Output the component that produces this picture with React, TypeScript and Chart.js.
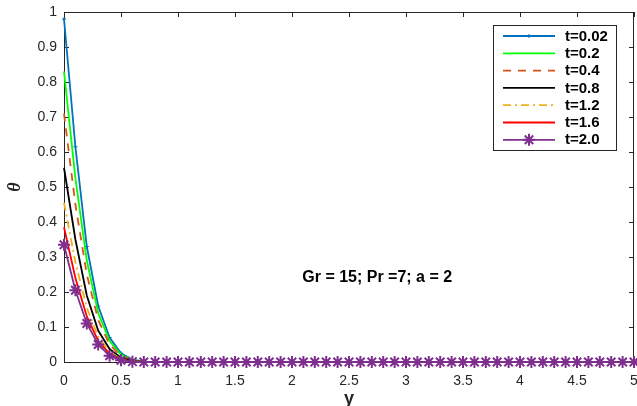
import React, { useEffect, useRef } from "react";
import { Chart, registerables } from "chart.js";

Chart.register(...registerables);

const xValues = [
  0, 0.1, 0.2, 0.3, 0.4, 0.5, 0.6, 0.7, 0.8, 0.9,
  1.0, 1.1, 1.2, 1.3, 1.4, 1.5, 1.6, 1.7, 1.8, 1.9,
  2.0, 2.1, 2.2, 2.3, 2.4, 2.5, 2.6, 2.7, 2.8, 2.9,
  3.0, 3.1, 3.2, 3.3, 3.4, 3.5, 3.6, 3.7, 3.8, 3.9,
  4.0, 4.1, 4.2, 4.3, 4.4, 4.5, 4.6, 4.7, 4.8, 4.9,
  5.0,
];

const seriesT002 = [
  0.98, 0.615, 0.33, 0.16, 0.07, 0.025, 0.007, 0.001,
  0, 0, 0, 0, 0, 0, 0, 0, 0, 0, 0, 0, 0, 0, 0, 0, 0, 0, 0, 0, 0, 0,
  0, 0, 0, 0, 0, 0, 0, 0, 0, 0, 0, 0, 0, 0, 0, 0, 0, 0, 0, 0, 0,
];
const seriesT02 = [
  0.83, 0.525, 0.29, 0.14, 0.06, 0.021, 0.006, 0.001,
  0, 0, 0, 0, 0, 0, 0, 0, 0, 0, 0, 0, 0, 0, 0, 0, 0, 0, 0, 0, 0, 0,
  0, 0, 0, 0, 0, 0, 0, 0, 0, 0, 0, 0, 0, 0, 0, 0, 0, 0, 0, 0, 0,
];
const seriesT04 = [
  0.71, 0.45, 0.25, 0.12, 0.05, 0.017, 0.005, 0,
  0, 0, 0, 0, 0, 0, 0, 0, 0, 0, 0, 0, 0, 0, 0, 0, 0, 0, 0, 0, 0, 0,
  0, 0, 0, 0, 0, 0, 0, 0, 0, 0, 0, 0, 0, 0, 0, 0, 0, 0, 0, 0, 0,
];
const seriesT08 = [
  0.555, 0.35, 0.19, 0.09, 0.037, 0.012, 0.003, 0,
  0, 0, 0, 0, 0, 0, 0, 0, 0, 0, 0, 0, 0, 0, 0, 0, 0, 0, 0, 0, 0, 0,
  0, 0, 0, 0, 0, 0, 0, 0, 0, 0, 0, 0, 0, 0, 0, 0, 0, 0, 0, 0, 0,
];
const seriesT12 = [
  0.455, 0.285, 0.155, 0.072, 0.029, 0.009, 0.002, 0,
  0, 0, 0, 0, 0, 0, 0, 0, 0, 0, 0, 0, 0, 0, 0, 0, 0, 0, 0, 0, 0, 0,
  0, 0, 0, 0, 0, 0, 0, 0, 0, 0, 0, 0, 0, 0, 0, 0, 0, 0, 0, 0, 0,
];
const seriesT16 = [
  0.385, 0.24, 0.13, 0.06, 0.024, 0.007, 0.002, 0,
  0, 0, 0, 0, 0, 0, 0, 0, 0, 0, 0, 0, 0, 0, 0, 0, 0, 0, 0, 0, 0, 0,
  0, 0, 0, 0, 0, 0, 0, 0, 0, 0, 0, 0, 0, 0, 0, 0, 0, 0, 0, 0, 0,
];
const seriesT20 = [
  0.335, 0.205, 0.11, 0.05, 0.018, 0.005, 0.001, 0,
  0, 0, 0, 0, 0, 0, 0, 0, 0, 0, 0, 0, 0, 0, 0, 0, 0, 0, 0, 0, 0, 0,
  0, 0, 0, 0, 0, 0, 0, 0, 0, 0, 0, 0, 0, 0, 0, 0, 0, 0, 0, 0, 0,
];

const seriesLabels = ["t=0.02", "t=0.2", "t=0.4", "t=0.8", "t=1.2", "t=1.6", "t=2.0"];
const seriesData = [seriesT002, seriesT02, seriesT04, seriesT08, seriesT12, seriesT16, seriesT20];
const seriesColors = ["#0072BD", "#00FF00", "#D95319", "#000000", "#EDB120", "#FF0000", "#7E2F8E"];
const seriesDash: number[][] = [[], [], [8, 7], [], [8, 4, 2, 4], [], []];

const xTitle = "y";
const yTitle = "θ";
const annotationText = "Gr = 15; Pr =7; a = 2";
const annotationX = 2.09;
const annotationY = 0.24;

const AXIS = "#262626";
const SANS = '"Liberation Sans", Arial, Helvetica, sans-serif';

function drawStar(ctx: CanvasRenderingContext2D, cx: number, cy: number, r: number) {
  ctx.beginPath();
  ctx.moveTo(cx - r, cy);
  ctx.lineTo(cx + r, cy);
  ctx.moveTo(cx, cy - r);
  ctx.lineTo(cx, cy + r);
  const d = r * 0.7071;
  ctx.moveTo(cx - d, cy - d);
  ctx.lineTo(cx + d, cy + d);
  ctx.moveTo(cx - d, cy + d);
  ctx.lineTo(cx + d, cy - d);
  ctx.stroke();
}

const fmt = (v: any) => String(Math.round(Number(v) * 10) / 10);
const noPadding = () => ({ left: 0, right: 0, top: 0, bottom: 0 });

const framePlugin = {
  id: "framePlugin",
  beforeDatasetsDraw(chart: any) {
    const { ctx, chartArea, scales } = chart;
    const { left, right, top, bottom } = chartArea;
    ctx.save();
    ctx.strokeStyle = AXIS;
    ctx.lineWidth = 1;
    ctx.strokeRect(Math.round(left) + 0.5, Math.round(top) + 0.5, Math.round(right - left) - 1, Math.round(bottom - top));
    ctx.beginPath();
    for (const t of scales.x.ticks) {
      const px = Math.round(scales.x.getPixelForValue(t.value)) + 0.5;
      ctx.moveTo(px, bottom);
      ctx.lineTo(px, bottom - 5);
      ctx.moveTo(px, top);
      ctx.lineTo(px, top + 5);
    }
    for (const t of scales.y.ticks) {
      const py = Math.round(scales.y.getPixelForValue(t.value)) + 0.5;
      ctx.moveTo(left, py);
      ctx.lineTo(left + 5, py);
      ctx.moveTo(right, py);
      ctx.lineTo(right - 5, py);
    }
    ctx.stroke();
    ctx.restore();
  },
  afterDatasetsDraw(chart: any) {
    const { ctx, chartArea, scales } = chart;
    const { left, right, top, bottom } = chartArea;
    ctx.save();

    // annotation
    ctx.fillStyle = "#000";
    ctx.font = `bold 16px ${SANS}`;
    ctx.textAlign = "left";
    ctx.textBaseline = "middle";
    ctx.fillText(annotationText, scales.x.getPixelForValue(annotationX), scales.y.getPixelForValue(annotationY));

    // axis titles
    ctx.font = `bold 18px ${SANS}`;
    ctx.textAlign = "center";
    ctx.textBaseline = "alphabetic";
    ctx.fillStyle = AXIS;
    ctx.fillText(xTitle, (left + right) / 2, 404);

    ctx.save();
    ctx.translate(15, (top + bottom) / 2);
    ctx.rotate(-Math.PI / 2);
    ctx.font = `italic bold 18px "Liberation Serif", "DejaVu Serif", serif`;
    ctx.textAlign = "center";
    ctx.textBaseline = "middle";
    ctx.fillText(yTitle, 0, 0);
    ctx.restore();

    // legend
    const bx = 493, by = 25, bw = 123, bh = 125;
    ctx.fillStyle = "#fff";
    ctx.fillRect(bx, by, bw, bh);
    ctx.strokeStyle = AXIS;
    ctx.lineWidth = 1;
    ctx.strokeRect(bx + 0.5, by + 0.5, bw, bh);
    for (let i = 0; i < seriesLabels.length; i++) {
      const yy = 36 + i * 17.3;
      ctx.strokeStyle = seriesColors[i];
      ctx.lineWidth = 1.8;
      ctx.setLineDash(seriesDash[i]);
      ctx.beginPath();
      ctx.moveTo(503, yy);
      ctx.lineTo(555, yy);
      ctx.stroke();
      ctx.setLineDash([]);
      if (i === 0) {
        ctx.lineWidth = 1;
        ctx.beginPath();
        ctx.moveTo(527, yy);
        ctx.lineTo(531, yy);
        ctx.moveTo(529, yy - 2);
        ctx.lineTo(529, yy + 2);
        ctx.stroke();
      }
      if (i === 6) {
        ctx.lineWidth = 2;
        drawStar(ctx, 529, yy, 6);
      }
      ctx.fillStyle = "#000";
      ctx.font = `bold 15px ${SANS}`;
      ctx.textAlign = "left";
      ctx.textBaseline = "middle";
      ctx.fillText(seriesLabels[i], 565, yy + 0.5);
    }
    ctx.restore();
  },
};

export default function App() {
  const canvasRef = useRef<HTMLCanvasElement | null>(null);

  useEffect(() => {
    if (!canvasRef.current) return;
    const datasets = seriesData.map((vals, i) => ({
      label: seriesLabels[i],
      data: vals.map((v, j) => ({ x: xValues[j], y: v })),
      borderColor: seriesColors[i],
      backgroundColor: seriesColors[i],
      borderWidth: 1.8,
      borderDash: seriesDash[i],
      tension: 0,
      fill: false,
      clip: false,
      order: seriesData.length - i,
      pointRadius: i === 6 ? 6 : i === 0 ? 2 : 0,
      pointStyle: i === 6 ? "star" : i === 0 ? "cross" : "circle",
      pointBorderWidth: i === 6 ? 2 : 1,
      pointBorderColor: seriesColors[i],
      pointHoverRadius: 0,
    }));

    const chart = new Chart(canvasRef.current, {
      type: "line",
      data: { datasets },
      options: {
        animation: false,
        responsive: false,
        devicePixelRatio: 1,
        layout: { autoPadding: false, padding: { top: 12, right: 3, left: 0, bottom: 0 } },
        plugins: {
          legend: { display: false },
          tooltip: { enabled: false },
        },
        scales: {
          x: {
            type: "linear",
            min: 0,
            max: 5,
            ticks: {
              stepSize: 0.5,
              color: AXIS,
              font: { family: SANS, size: 14 },
              padding: 11,
              maxRotation: 0,
              callback: fmt,
            },
            grid: { display: false, drawTicks: false },
            border: { display: false },
            afterFit: (s: any) => {
              s.height = 44;
              s.paddingLeft = 0;
              s.paddingRight = 0;
              s.getPadding = noPadding;
            },
          },
          y: {
            type: "linear",
            min: 0,
            max: 1,
            ticks: {
              stepSize: 0.1,
              color: AXIS,
              font: { family: SANS, size: 14 },
              padding: 7,
              callback: fmt,
            },
            grid: { display: false, drawTicks: false },
            border: { display: false },
            afterFit: (s: any) => {
              s.width = 64;
              s.paddingTop = 0;
              s.paddingBottom = 0;
              s.getPadding = noPadding;
            },
          },
        },
      },
      plugins: [framePlugin],
    } as any);
    return () => chart.destroy();
  }, []);

  return (
    <div style={{ position: "absolute", left: 0, top: 0, width: 637, height: 406, background: "#fff" }}>
      <canvas ref={canvasRef} width={637} height={406} style={{ width: 637, height: 406, display: "block" }} />
    </div>
  );
}
